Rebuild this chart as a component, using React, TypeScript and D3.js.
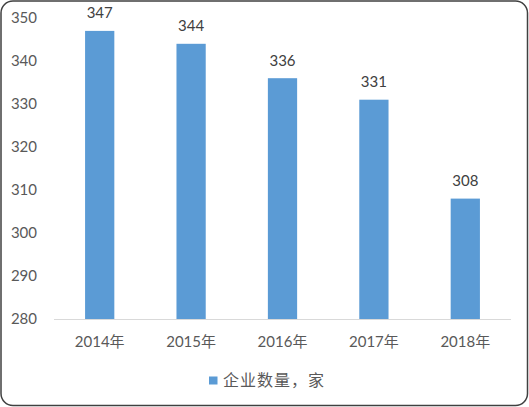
import React from "react";
import * as d3 from "d3";

const years = ["2014年", "2015年", "2016年", "2017年", "2018年"];
const companies = [347, 344, 336, 331, 308];
const yTicks = [280, 290, 300, 310, 320, 330, 340, 350];
const seriesName = "企业数量，家";

const W = 529;
const H = 407;
const barColor = "#5B9BD5";
const textColor = "#595959";
const font = "Lato, 'Noto Sans CJK SC', sans-serif";

const App: React.FC = () => {
    const margin = { top: 18, right: 18, bottom: 88, left: 54 };
    const x = d3.scaleBand<string>()
        .domain(years)
        .range([margin.left, W - margin.right])
        .paddingInner(0.68)
        .paddingOuter(0.34);
    const y = d3.scaleLinear().domain([280, 350]).range([H - margin.bottom, margin.top]);

    return (
        <svg width={W} height={H} style={{ display: "block", position: "absolute", left: 0, top: 0 }} fontFamily={font}>
            <rect x={1} y={1} width={W - 2.5} height={H - 2.5} rx={12} ry={12} fill="#fff" stroke="#404040" strokeWidth={1.5} />
            {yTicks.map((t) => (
                <text key={t} x={37} y={y(t)} dy="0.35em" textAnchor="end" fontSize={15} fill={textColor}>{t}</text>
            ))}
            {years.map((yr, i) => (
                <g key={yr}>
                    <rect x={x(yr)} y={y(companies[i])} width={x.bandwidth()} height={y(280) - y(companies[i])} fill={barColor} />
                    <text x={x(yr)! + x.bandwidth() / 2} y={y(companies[i]) - 12.5} textAnchor="middle" fontSize={15} fill="#404040">{companies[i]}</text>
                    <text x={x(yr)! + x.bandwidth() / 2} y={y(280) + 23} dy="0.35em" textAnchor="middle" fontSize={15} fill={textColor}>{yr}</text>
                </g>
            ))}
            <line x1={margin.left} x2={W - margin.right} y1={y(280) + 0.5} y2={y(280) + 0.5} stroke="#d9d9d9" strokeWidth={1} />
            <rect x={209} y={376.5} width={8.5} height={8} fill={barColor} />
            <text x={223} y={380.5} dy="0.35em" fontSize={16} letterSpacing={1} fill={textColor}>{seriesName}</text>
        </svg>
    );
};

export default App;
